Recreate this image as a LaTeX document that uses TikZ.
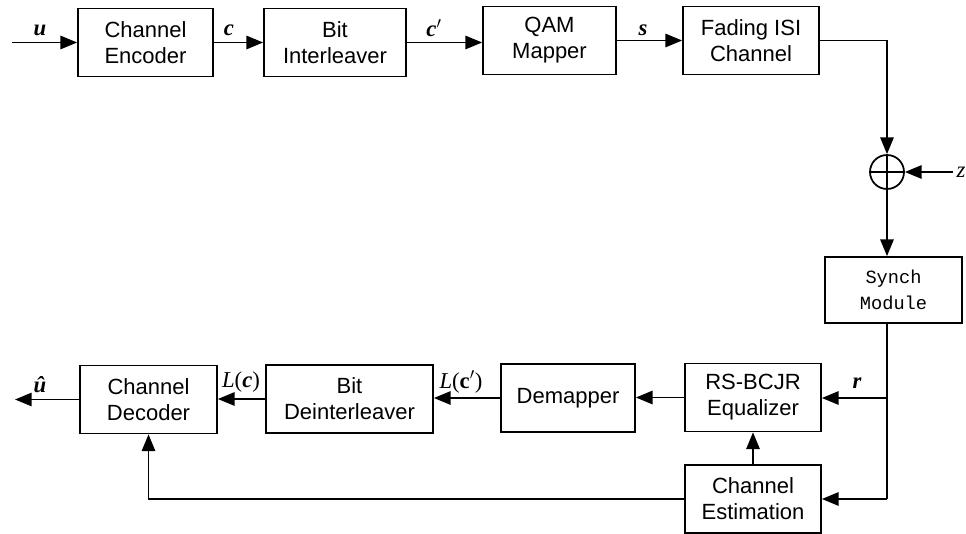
\documentclass[tikz,border=0pt]{standalone}
\usepackage{fontspec}
\setmainfont{Liberation Sans}
\newfontfamily\monofam{Liberation Mono}
\newfontfamily\serfam{Liberation Serif}
\newcommand{\bvar}[1]{{\serfam\bfseries\itshape #1}}
\newcommand{\ivar}[1]{{\serfam\itshape #1}}
\newcommand{\sprime}{\ensuremath{{}'}}
\usetikzlibrary{arrows.meta}
\begin{document}
\begin{tikzpicture}[x=0.75pt,y=-0.75pt,
  box/.style={draw, line width=1.3pt, minimum height=51pt, align=center, inner sep=2pt,
    font=\fontsize{16.5}{19.5}\selectfont},
  conn/.style={line width=1.3pt, -{Triangle[length=12.5pt,width=10pt]}},
  wire/.style={line width=1.3pt},
  lab/.style={font=\fontsize{17}{19}\selectfont, inner sep=1pt}]
\useasboundingbox (0,0) rectangle (966,534);
% top row
\node[box, minimum width={0.75*135pt}] (enc) at (145.5,42.5) {Channel\\Encoder};
\node[box, minimum width={0.75*142pt}] (intl) at (335,42.5) {Bit\\Interleaver};
\node[box, minimum width={0.75*133pt}] (qam) at (549.5,40.5) {QAM\\Mapper};
\node[box, minimum width={0.75*136pt}] (fad) at (751,40.5) {Fading ISI\\Channel};
\node[draw, circle, line width=1.3pt, minimum size={0.75*34pt}, inner sep=0pt] (sum) at (887,172) {};
\draw[wire] (sum.north) -- (sum.south) (sum.west) -- (sum.east);
\node[box, minimum width={0.75*137pt}, minimum height={0.75*66pt}, font=\monofam\fontsize{14}{19}\selectfont] (sync) at (893.5,290) {Synch\\Module};
% bottom row
\node[box, minimum width={0.75*137pt}] (dec) at (148.5,399.5) {Channel\\Decoder};
\node[box, minimum width={0.75*167pt}] (deint) at (349.5,399) {Bit\\Deinterleaver};
\node[box, minimum width={0.75*134pt}] (demap) at (568,398) {Demapper};
\node[box, minimum width={0.75*136pt}] (eq) at (753,397.5) {RS-BCJR\\Equalizer};
\node[box, minimum width={0.75*136pt}] (est) at (753,499) {Channel\\Estimation};
% coordinates
\coordinate (uin) at (12,42.5);
\coordinate (zin) at (953,172);
\coordinate (uout) at (15,399.5);
\coordinate (jr) at (887,398);
\coordinate (je) at (887,499);
% labels
\node[lab] (lu) at (40,30) {\bvar{u}};
\node[lab] (lc) at (229,30) {\bvar{c}};
\node[lab] (lcp) at (434,28) {\bvar{c}\sprime};
\node[lab] (ls) at (643,30) {\bvar{s}};
\node[lab, anchor=west] (lz) at (955,172) {\ivar{z}};
\node[lab] (lr) at (857,383) {\bvar{r}};
\node[lab] (llc) at (241,382) {\ivar{L}{\serfam(}\bvar{c}{\serfam)}};
\node[lab] (llcp) at (461,382) {\ivar{L}{\serfam(\bfseries c}\sprime{\serfam)}};
\node[lab, anchor=south] (luh) at (40,394) {\bvar{û}};
% connectors
\draw[conn] (uin) -- (enc.west);
\draw[conn] (enc.east) -- (intl.west);
\draw[conn] (intl.east) -- (intl.east -| qam.west);
\draw[conn] (qam.east) -- (fad.west);
\draw[conn] (fad.east) -| (sum.north);
\draw[conn] (zin) -- (sum.east);
\draw[conn] (sum.south) -- (sum.south |- sync.north);
\draw[wire] (sum.south |- sync.south) -- (je);
\draw[conn] (jr) -- (jr -| eq.east);
\draw[conn] (je) -- (est.east);
\draw[conn] (est.north) -- (eq.south);
\draw[conn] (eq.west) -- (eq.west -| demap.east);
\draw[conn] (demap.west) -- (demap.west -| deint.east);
\draw[conn] (deint.west) -- (deint.west -| dec.east);
\draw[conn] (dec.west) -- (uout);
\draw[conn] (est.west) -| (dec.south);
\end{tikzpicture}
\end{document}
